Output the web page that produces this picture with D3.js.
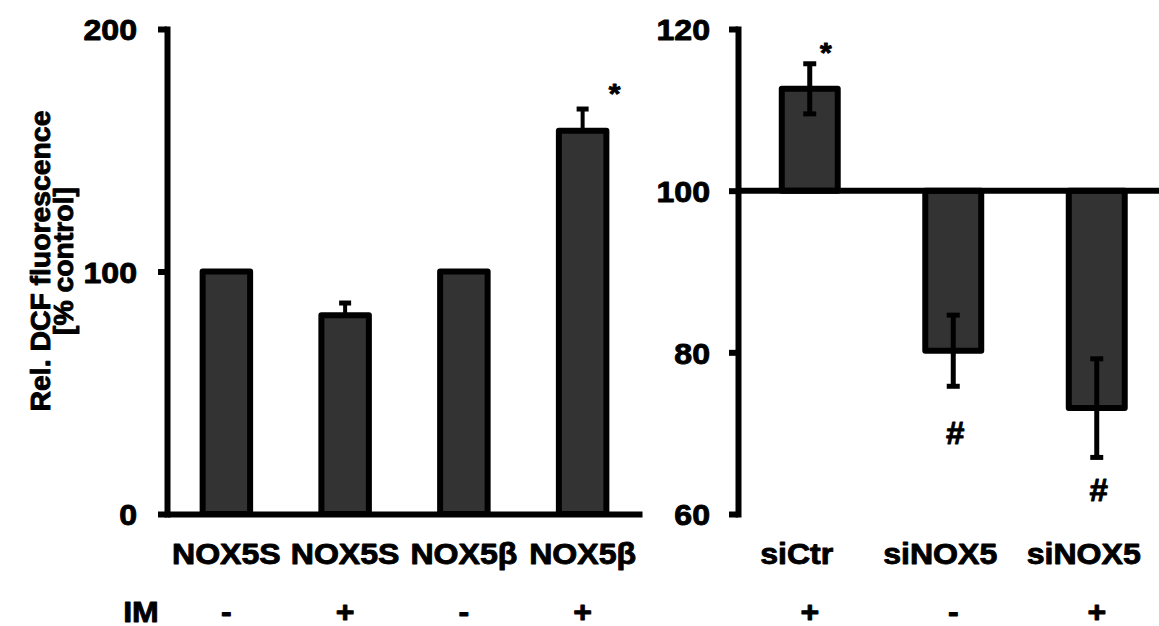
<!DOCTYPE html>
<html><head><meta charset="utf-8">
<script src="https://cdn.jsdelivr.net/npm/d3@7"></script>
<style>
html,body{margin:0;padding:0;background:#fff;}
text{font-family:"Liberation Sans",Arial,sans-serif;font-weight:bold;fill:#000;stroke:#000;stroke-width:0.9px;stroke-linejoin:round;}
</style></head>
<body>
<svg id="chart" width="1159" height="626"></svg>
<script>
// ---- data ----
const leftCategories = ["NOX5S", "NOX5S", "NOX5β", "NOX5β"];
const leftValues = [100, 82, 100, 158];
const leftErrors = [0, 5, 0, 9];
const leftIM = ["-", "+", "-", "+"];
const leftTicks = [0, 100, 200];
const leftMarks = [{ index: 3, text: "*", value: 175.5 }];

const rightCategories = ["siCtr", "siNOX5", "siNOX5"];
const rightValues = [112.6, 80.2, 73.1];
const rightErrors = [3.1, 4.4, 6.1];
const rightIM = ["+", "-", "+"];
const rightTicks = [60, 80, 100, 120];
const rightMarks = [
  { index: 0, text: "*", value: 117.8 },
  { index: 1, text: "#", value: 70.2 },
  { index: 2, text: "#", value: 63.1 }
];
const rowLabel = "IM";
const yTitle = ["Rel. DCF fluorescence", "[% control]"];

// ---- layout/style ----
const FS = 30, SX = 1.07;
const svg = d3.select("#chart");
const yTop = 29, yBot = 514;

function hText(g, x, y, txt, anchor, fs = FS, sx = SX) {
  return g.append("text")
    .attr("transform", `translate(${x},${y}) scale(${sx},1)`)
    .attr("text-anchor", anchor)
    .style("font-size", fs + "px")
    .text(txt);
}

function styleAxis(g, labelGap) {
  g.select(".domain").attr("stroke", "#000").attr("stroke-width", 6).attr("stroke-linecap", "square");
  g.selectAll(".tick line").attr("stroke", "#000").attr("stroke-width", 6);
  g.selectAll(".tick text")
    .attr("x", null).attr("dy", null)
    .attr("transform", `translate(${-labelGap},10.7) scale(${SX},1)`)
    .attr("text-anchor", "end")
    .attr("fill", "#000")
    .style("font-size", FS + "px")
    .style("font-family", '"Liberation Sans",Arial,sans-serif')
    .style("font-weight", "bold");
}

// ---- left panel ----
const xL = d3.scaleBand().domain(d3.range(leftCategories.length)).range([167, 642]).paddingInner(0.6).paddingOuter(0.3);
const yL = d3.scaleLinear().domain([0, 200]).range([yBot, yTop]);
const gL = svg.append("g");

gL.selectAll("rect.bar").data(leftValues).join("rect")
  .attr("class", "bar")
  .attr("x", (d, i) => xL(i)).attr("width", xL.bandwidth())
  .attr("y", d => yL(d)).attr("height", d => yL(0) - yL(d))
  .attr("fill", "#333333").attr("stroke", "#000").attr("stroke-width", 6).attr("stroke-linejoin", "round");

leftValues.forEach((v, i) => {
  const e = leftErrors[i];
  if (!e) return;
  const cx = xL(i) + xL.bandwidth() / 2;
  gL.append("line").attr("x1", cx).attr("x2", cx).attr("y1", yL(v)).attr("y2", yL(v + e))
    .attr("stroke", "#000").attr("stroke-width", 4);
  gL.append("line").attr("x1", cx - 6).attr("x2", cx + 6).attr("y1", yL(v + e)).attr("y2", yL(v + e))
    .attr("stroke", "#000").attr("stroke-width", 5);
});

gL.append("g").attr("transform", `translate(0,${yBot})`)
  .call(d3.axisBottom(xL).tickSize(0).tickSizeOuter(0).tickFormat(""))
  .call(g => { g.select(".domain").attr("stroke", "#000").attr("stroke-width", 6); g.selectAll(".tick").remove(); });

gL.append("g").attr("transform", "translate(167,0)")
  .call(d3.axisLeft(yL).tickValues(leftTicks).tickSize(9).tickSizeOuter(0))
  .call(g => styleAxis(g, 30));

leftCategories.forEach((c, i) => hText(gL, xL(i) + xL.bandwidth() / 2, 564, c, "middle"));
leftIM.forEach((s, i) => hText(gL, xL(i) + xL.bandwidth() / 2, 622, s, "middle"));
leftMarks.forEach(m => hText(gL, xL(m.index) + xL.bandwidth() / 2 + 32, yL(m.value) + 15, m.text, "middle", 28));

hText(svg, 141, 622, rowLabel, "middle");

// y title
const titleX = [50, 73];
yTitle.forEach((t, i) => {
  svg.append("text")
    .attr("transform", `translate(${titleX[i]},261) rotate(-90) scale(1.05,1)`)
    .attr("text-anchor", "middle")
    .style("font-size", "27px")
    .text(t);
});

// ---- right panel ----
const xR = d3.scaleBand().domain(d3.range(rightCategories.length)).range([738, 1168.5]).paddingInner(0.61).paddingOuter(0.305);
const yR = d3.scaleLinear().domain([60, 120]).range([yBot, yTop]);
const gR = svg.append("g");

gR.selectAll("rect.bar").data(rightValues).join("rect")
  .attr("class", "bar")
  .attr("x", (d, i) => xR(i)).attr("width", xR.bandwidth())
  .attr("y", d => Math.min(yR(d), yR(100))).attr("height", d => Math.abs(yR(d) - yR(100)))
  .attr("fill", "#333333").attr("stroke", "#000").attr("stroke-width", 6).attr("stroke-linejoin", "round");

gR.append("line").attr("x1", 738).attr("x2", 1159).attr("y1", yR(100)).attr("y2", yR(100))
  .attr("stroke", "#000").attr("stroke-width", 6);

rightValues.forEach((v, i) => {
  const e = rightErrors[i];
  const cx = xR(i) + xR.bandwidth() / 2;
  gR.append("line").attr("x1", cx).attr("x2", cx).attr("y1", yR(v - e)).attr("y2", yR(v + e))
    .attr("stroke", "#000").attr("stroke-width", 5);
  [v - e, v + e].forEach(w => gR.append("line").attr("x1", cx - 6.5).attr("x2", cx + 6.5)
    .attr("y1", yR(w)).attr("y2", yR(w)).attr("stroke", "#000").attr("stroke-width", 5));
});

gR.append("g").attr("transform", "translate(738,0)")
  .call(d3.axisLeft(yR).tickValues(rightTicks).tickSize(9).tickSizeOuter(0))
  .call(g => styleAxis(g, 28));

rightCategories.forEach((c, i) => hText(gR, xR(i) + xR.bandwidth() / 2 - 13, 564, c, "middle"));
rightIM.forEach((s, i) => hText(gR, xR(i) + xR.bandwidth() / 2, 622, s, "middle"));
rightMarks.forEach(m => {
  const star = m.text === "*";
  hText(gR, xR(m.index) + xR.bandwidth() / 2 + (star ? 16 : 2), yR(m.value) + (star ? 15 : 12), m.text, "middle", star ? 28 : 31);
});
</script>
</body></html>
